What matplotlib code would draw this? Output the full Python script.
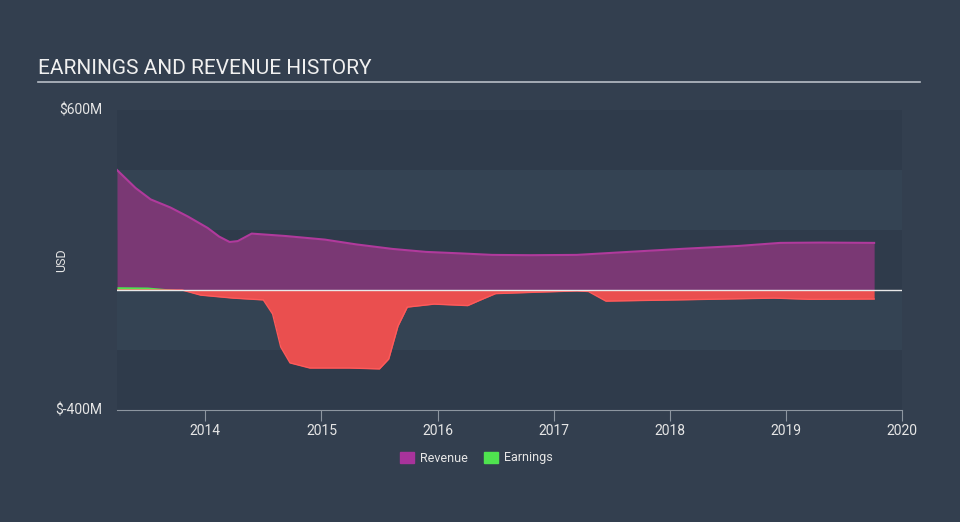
import matplotlib.pyplot as plt
import numpy as np

# values in $M
rev_t = [2013.24, 2013.40, 2013.53, 2013.70, 2013.85, 2014.02, 2014.12, 2014.21, 2014.28,
         2014.40, 2014.69, 2015.03, 2015.30, 2015.61, 2015.90, 2016.20, 2016.47, 2016.80,
         2017.20, 2017.60, 2018.10, 2018.60, 2018.95, 2019.30, 2019.76]
rev_v = [400, 340, 302, 275, 245, 207, 178, 160, 163,
         188, 180, 168, 152, 137, 127, 122, 117, 116,
         117, 126, 137, 147, 157, 158, 157]

earn_t = [2013.24, 2013.50, 2013.65, 2013.80, 2013.96, 2014.24, 2014.50, 2014.58, 2014.65,
          2014.73, 2014.90, 2015.24, 2015.50, 2015.58, 2015.66, 2015.74, 2015.97, 2016.26,
          2016.36, 2016.50, 2016.80, 2017.20, 2017.30, 2017.45, 2018.05, 2018.90, 2019.20, 2019.76]
earn_v = [11, 10, 5, 0, -17, -27, -33, -80, -190,
          -243, -260, -260, -263, -230, -120, -57, -47, -52,
          -35, -12, -8, -3, -5, -37, -33, -27, -31, -30]

years = [2014, 2015, 2016, 2017, 2018, 2019, 2020]

bg = '#333f4f'
rev_line = '#b03a9c'
rev_fill = '#7a3874'
green = '#4fe34f'
red = '#ea4f4f'

fig = plt.figure(figsize=(9.6, 5.22), dpi=100)
fig.patch.set_facecolor(bg)
plt.rcParams['font.family'] = ['Roboto', 'DejaVu Sans']

ax = fig.add_axes([117/960, 1 - 410/522, (902 - 117)/960, 300/522])
ax.set_facecolor(bg)
ax.set_xlim(2013.24, 2020.0)
ax.set_ylim(-400, 600)

# alternating bands
dark, light = '#2f3b4b', '#344353'
for lo, hi, c in [(400, 600, dark), (200, 400, light), (0, 200, dark),
                  (-200, 0, light), (-400, -200, dark)]:
    ax.axhspan(lo, hi, color=c, lw=0, zorder=0)

rt = np.array(rev_t)
rv = np.array(rev_v)
ax.fill_between(rt, 0, rv, color=rev_fill, lw=0, zorder=2)
ax.plot(rt, rv, color=rev_line, lw=1.5, zorder=3)

et = np.array(earn_t)
ev = np.array(earn_v)
ax.fill_between(et, 0, ev, where=ev >= 0, interpolate=True, color=green, lw=0, zorder=4)
ax.fill_between(et, 0, ev, where=ev <= 0, interpolate=True, color=red, lw=0, zorder=4)
ax.plot(et, np.minimum(ev, 0), color='#ff5a5a', lw=1, zorder=5)

ax.axhline(0, color='#e8e8e8', lw=1, zorder=6)

for s in ['top', 'right', 'left']:
    ax.spines[s].set_visible(False)
ax.spines['bottom'].set_color('#8d96a0')
ax.set_xticks(years)
ax.set_xticklabels([str(y) for y in years])
ax.tick_params(axis='x', colors='#8d96a0', length=8, labelcolor='#e6e6e6', labelsize=10, pad=2)
ax.set_yticks([])

fig.text(102/960, 1 - 110/522, '$600M', color='#e6e6e6', fontsize=10, ha='right', va='center')
fig.text(102/960, 1 - 410/522, '$-400M', color='#e6e6e6', fontsize=10, ha='right', va='center')
fig.text(62/960, 1 - 260/522, 'USD', color='#e6e6e6', fontsize=9, rotation=90, ha='center', va='center')

fig.text(38/960, 1 - 68/522, 'EARNINGS AND REVENUE HISTORY', color='#f0f0f0', fontsize=15,
         ha='left', va='center')
fig.add_artist(plt.Line2D([38/960, 920/960], [1 - 82/522, 1 - 82/522], color='#b8bec6', lw=1.2))

# legend
fig.patches.append(plt.Rectangle((400/960, 1 - 463/522), 14/960, 11/522, color='#a8339b',
                                 transform=fig.transFigure, figure=fig))
fig.text(420/960, 1 - 458/522, 'Revenue', color='#e6e6e6', fontsize=9, va='center')
fig.patches.append(plt.Rectangle((484/960, 1 - 463/522), 14/960, 11/522, color=green,
                                 transform=fig.transFigure, figure=fig))
fig.text(504/960, 1 - 458/522, 'Earnings', color='#e6e6e6', fontsize=9, va='center')

fig.savefig('out.png', dpi=100, facecolor=bg)
